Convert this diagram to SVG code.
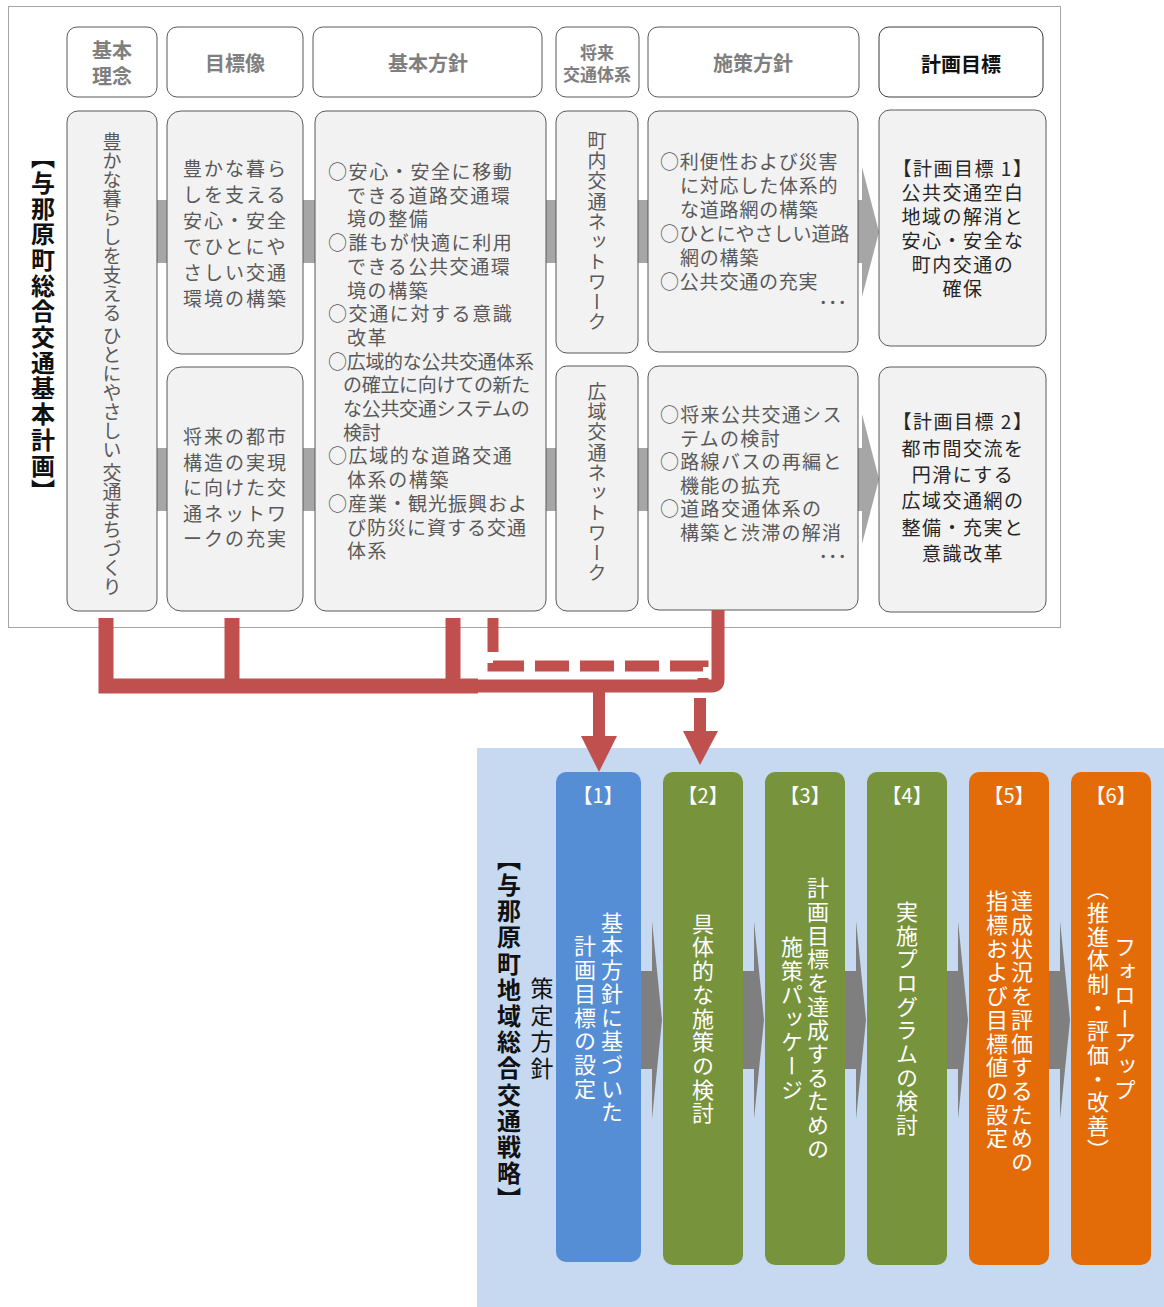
<svg xmlns="http://www.w3.org/2000/svg" width="1164" height="1307" viewBox="0 0 1164 1307">
<defs>
<style>
.frame{fill:#fff;stroke:#a6a6a6;stroke-width:1}
.hdr{fill:#fff;stroke:#595959;stroke-width:1}
.hdrk{fill:#fff;stroke:#3a3a3a;stroke-width:1}
.box{fill:#f2f2f2;stroke:#595959;stroke-width:1}
.f{font-family:"Noto Sans CJK JP","Noto Sans",sans-serif}
.ht{font-family:"Noto Sans CJK JP",sans-serif;font-weight:bold;fill:#7f7f7f;font-size:20px}
.htk{font-family:"Noto Sans CJK JP",sans-serif;font-weight:bold;fill:#111;font-size:20px}
.t{font-family:"Noto Sans CJK JP",sans-serif;fill:#595959;font-size:19px}
.tk{font-family:"Noto Sans CJK JP",sans-serif;fill:#262626;font-size:19px;letter-spacing:1.5px}
.v{writing-mode:vertical-rl}
.w{font-family:"Noto Sans CJK JP",sans-serif;fill:#fff;font-size:22px;letter-spacing:1.7px}
.lab{font-family:"Noto Sans CJK JP",sans-serif;fill:#fff;font-size:20px}
.gbar{fill:#a6a6a6}
.garr{fill:#7f7f7f}
.red{stroke:#c0504d;fill:none}
.redf{fill:#c0504d}
</style>
</defs>

<rect class="frame" x="8.5" y="6.5" width="1052" height="621"/>

<g id="title-plan">
<text class="f v" x="43" y="145" style="font-weight:bold;font-size:24px;letter-spacing:1.7px;fill:#111">【与那原町総合交通基本計画】</text>
</g>

<!-- headers -->
<g id="h-rinen"><rect class="hdr" x="67" y="27" width="90" height="70" rx="10"/>
<text class="ht" x="112" y="49" text-anchor="middle" dominant-baseline="central">基本</text>
<text class="ht" x="112" y="75" text-anchor="middle" dominant-baseline="central">理念</text></g>
<g id="h-mokuhyozo"><rect class="hdr" x="167" y="27" width="136" height="70" rx="10"/>
<text class="ht" x="235" y="62" text-anchor="middle" dominant-baseline="central">目標像</text></g>
<g id="h-kihonhoshin"><rect class="hdr" x="313" y="27" width="229" height="70" rx="10"/>
<text class="ht" x="428" y="62" text-anchor="middle" dominant-baseline="central">基本方針</text></g>
<g id="h-shorai"><rect class="hdr" x="556" y="27" width="83" height="70" rx="10"/>
<text class="ht" x="597" y="51" text-anchor="middle" dominant-baseline="central" style="font-size:17px">将来</text>
<text class="ht" x="597" y="73" text-anchor="middle" dominant-baseline="central" style="font-size:17px">交通体系</text></g>
<g id="h-shisaku"><rect class="hdr" x="648" y="27" width="211" height="70" rx="10"/>
<text class="ht" x="753" y="62" text-anchor="middle" dominant-baseline="central">施策方針</text></g>
<g id="h-keikaku"><rect class="hdrk" x="879" y="27" width="164" height="70" rx="10"/>
<text class="htk" x="961" y="63" text-anchor="middle" dominant-baseline="central">計画目標</text></g>

<!-- grey connecting bars -->
<g id="bars">
<rect class="gbar" x="157" y="200" width="10" height="63"/>
<rect class="gbar" x="303" y="200" width="12" height="63"/>
<rect class="gbar" x="546" y="200" width="10" height="63"/>
<rect class="gbar" x="638" y="200" width="10" height="63"/>
<rect class="gbar" x="157" y="448" width="10" height="63"/>
<rect class="gbar" x="303" y="448" width="12" height="63"/>
<rect class="gbar" x="546" y="448" width="10" height="63"/>
<rect class="gbar" x="638" y="448" width="10" height="63"/>
<polygon class="gbar" points="858,200 862,200 862,167 879,232 862,297 862,263 858,263"/>
<polygon class="gbar" points="858,448 862,448 862,414 879,479 862,544 862,511 858,511"/>
</g>

<!-- body boxes -->
<g id="n-rinen"><rect class="box" x="67" y="111" width="90" height="500" rx="11"/>
<text class="t v" x="112" y="132">豊かな暮らしを支える ひとにやさしい 交通まちづくり</text></g>

<g id="n-mokuhyo1"><rect class="box" x="167" y="111" width="136" height="243" rx="14"/>
<text class="t" dominant-baseline="central" style="letter-spacing:2px">
<tspan x="183" y="167">豊かな暮ら</tspan><tspan x="183" y="193">しを支える</tspan><tspan x="183" y="219">安心・安全</tspan><tspan x="183" y="245">でひとにや</tspan><tspan x="183" y="271">さしい交通</tspan><tspan x="183" y="297">環境の構築</tspan></text></g>

<g id="n-mokuhyo2"><rect class="box" x="167" y="367" width="136" height="244" rx="14"/>
<text class="t" dominant-baseline="central" style="letter-spacing:2px">
<tspan x="183" y="435">将来の都市</tspan><tspan x="183" y="460.5">構造の実現</tspan><tspan x="183" y="486">に向けた交</tspan><tspan x="183" y="511.5">通ネットワ</tspan><tspan x="183" y="537">ークの充実</tspan></text></g>

<g id="n-kihonhoshin"><rect class="box" x="315" y="111" width="231" height="500" rx="11"/>
<text class="t" dominant-baseline="central" style="letter-spacing:1.6px">
<tspan x="328" y="170">○安心・安全に移動</tspan>
<tspan x="347" y="193.7">できる道路交通環</tspan>
<tspan x="347" y="217.4">境の整備</tspan>
<tspan x="328" y="241.1">○誰もが快適に利用</tspan>
<tspan x="347" y="264.8">できる公共交通環</tspan>
<tspan x="347" y="288.5">境の構築</tspan>
<tspan x="328" y="312.2">○交通に対する意識</tspan>
<tspan x="347" y="335.9">改革</tspan>
<tspan x="328" y="359.6" style="letter-spacing:-0.3px">○広域的な公共交通体系</tspan>
<tspan x="343" y="383.3" style="letter-spacing:-0.3px">の確立に向けての新た</tspan>
<tspan x="343" y="407" style="letter-spacing:-0.3px">な公共交通システムの</tspan>
<tspan x="343" y="430.7" style="letter-spacing:-0.3px">検討</tspan>
<tspan x="328" y="454.4">○広域的な道路交通</tspan>
<tspan x="347" y="478.1">体系の構築</tspan>
<tspan x="328" y="501.8" style="letter-spacing:1px">○産業・観光振興およ</tspan>
<tspan x="347" y="525.5" style="letter-spacing:1px">び防災に資する交通</tspan>
<tspan x="347" y="549.2">体系</tspan></text></g>

<g id="n-chonai"><rect class="box" x="556" y="111" width="82" height="242" rx="11"/>
<text class="t v" x="597" y="232" text-anchor="middle" style="letter-spacing:1.1px">町内交通ネットワーク</text></g>
<g id="n-koiki"><rect class="box" x="556" y="366" width="82" height="245" rx="11"/>
<text class="t v" x="597" y="483" text-anchor="middle" style="letter-spacing:1.1px">広域交通ネットワーク</text></g>

<g id="n-shisaku1"><rect class="box" x="648" y="111" width="210" height="241" rx="11"/>
<text class="t" dominant-baseline="central" style="letter-spacing:0.8px">
<tspan x="660" y="160">○利便性および災害</tspan>
<tspan x="680" y="184">に対応した体系的</tspan>
<tspan x="680" y="208">な道路網の構築</tspan>
<tspan x="660" y="232" style="letter-spacing:0px">○ひとにやさしい道路</tspan>
<tspan x="680" y="256">網の構築</tspan>
<tspan x="660" y="280">○公共交通の充実</tspan></text>
<text class="t" x="847" y="301" text-anchor="end" dominant-baseline="central">･･･</text></g>

<g id="n-shisaku2"><rect class="box" x="648" y="366" width="210" height="244" rx="11"/>
<text class="t" dominant-baseline="central" style="letter-spacing:1.3px">
<tspan x="660" y="413">○将来公共交通シス</tspan>
<tspan x="680" y="436.5">テムの検討</tspan>
<tspan x="660" y="460">○路線バスの再編と</tspan>
<tspan x="680" y="483.5">機能の拡充</tspan>
<tspan x="660" y="507">○道路交通体系の</tspan>
<tspan x="680" y="530.5">構築と渋滞の解消</tspan></text>
<text class="t" x="847" y="555" text-anchor="end" dominant-baseline="central">･･･</text></g>

<g id="n-goal1"><rect class="box" x="879" y="110" width="167" height="236" rx="11"/>
<text class="tk" text-anchor="middle" dominant-baseline="central">
<tspan x="963" y="167">【計画目標 1】</tspan><tspan x="963" y="191">公共交通空白</tspan><tspan x="963" y="215">地域の解消と</tspan><tspan x="963" y="239">安心・安全な</tspan><tspan x="963" y="263">町内交通の</tspan><tspan x="963" y="287">確保</tspan></text></g>

<g id="n-goal2"><rect class="box" x="879" y="367" width="167" height="245" rx="11"/>
<text class="tk" text-anchor="middle" dominant-baseline="central">
<tspan x="963" y="420">【計画目標 2】</tspan><tspan x="963" y="447">都市間交流を</tspan><tspan x="963" y="473">円滑にする</tspan><tspan x="963" y="499">広域交通網の</tspan><tspan x="963" y="526">整備・充実と</tspan><tspan x="963" y="552">意識改革</tspan></text></g>

<!-- lower section -->
<rect x="477" y="748" width="687" height="559" fill="#c6d9f1"/>

<g id="title-strategy">
<text class="f v" x="509" y="1030" text-anchor="middle" style="font-weight:bold;font-size:24px;letter-spacing:2.2px;fill:#111">【与那原町地域総合交通戦略】</text>
<text class="f v" x="542" y="1030" text-anchor="middle" style="font-size:23px;letter-spacing:3.5px;fill:#111">策定方針</text>
</g>

<g id="step-arrows">
<polygon class="garr" points="641,971 652,971 652,921 662,1020 652,1119 652,1069 641,1069"/>
<polygon class="garr" points="743,971 754,971 754,921 764,1020 754,1119 754,1069 743,1069"/>
<polygon class="garr" points="845,971 856,971 856,921 866,1020 856,1119 856,1069 845,1069"/>
<polygon class="garr" points="947,971 958,971 958,921 968,1020 958,1119 958,1069 947,1069"/>
<polygon class="garr" points="1049,971 1060,971 1060,921 1070,1020 1060,1119 1060,1069 1049,1069"/>
</g>

<g id="s1"><rect x="556" y="772" width="85" height="490" rx="10" fill="#558ed5"/>
<text class="lab" x="598" y="794" text-anchor="middle" dominant-baseline="central">【1】</text>
<text class="w v" x="612" y="1018" text-anchor="middle">基本方針に基づいた</text>
<text class="w v" x="585" y="1018" text-anchor="middle">計画目標の設定</text></g>

<g id="s2"><rect x="663" y="772" width="80" height="493" rx="10" fill="#77933c"/>
<text class="lab" x="703" y="794" text-anchor="middle" dominant-baseline="central">【2】</text>
<text class="w v" x="703" y="1019" text-anchor="middle">具体的な施策の検討</text></g>

<g id="s3"><rect x="765" y="772" width="80" height="493" rx="10" fill="#77933c"/>
<text class="lab" x="805" y="794" text-anchor="middle" dominant-baseline="central">【3】</text>
<text class="w v" x="818" y="1019" text-anchor="middle">計画目標を達成するための</text>
<text class="w v" x="792" y="1019" text-anchor="middle">施策パッケージ</text></g>

<g id="s4"><rect x="867" y="772" width="80" height="493" rx="10" fill="#77933c"/>
<text class="lab" x="907" y="794" text-anchor="middle" dominant-baseline="central">【4】</text>
<text class="w v" x="907" y="1019" text-anchor="middle">実施プログラムの検討</text></g>

<g id="s5"><rect x="969" y="772" width="80" height="493" rx="10" fill="#e36c09"/>
<text class="lab" x="1009" y="794" text-anchor="middle" dominant-baseline="central">【5】</text>
<text class="w v" x="1022" y="890">達成状況を評価するための</text>
<text class="w v" x="997" y="890">指標および目標値の設定</text></g>

<g id="s6"><rect x="1071" y="772" width="80" height="493" rx="10" fill="#e36c09"/>
<text class="lab" x="1111" y="794" text-anchor="middle" dominant-baseline="central">【6】</text>
<text class="w v" x="1125" y="1019" text-anchor="middle">フォローアップ</text>
<text class="w v" x="1098" y="1020" text-anchor="middle">（推進体制・評価・改善）</text></g>

<!-- connectors -->
<g id="connectors">
<path class="red" d="M106,618 V686 H478" stroke-width="15"/>
<path class="red" d="M232,618 V686" stroke-width="15"/>
<path class="red" d="M453,618 V686" stroke-width="15"/>
<path class="red" d="M718,610 V680 Q718,686 712,686 H470" stroke-width="13"/>
<path class="red" d="M493,618 V666 H703 V680" stroke-width="11" stroke-dasharray="34 11"/>
<path class="red" d="M599,686 V738" stroke-width="12"/>
<polygon class="redf" points="581,736 617,736 599,772"/>
<path class="red" d="M700,698 V733" stroke-width="12"/>
<polygon class="redf" points="683,731 718,731 700,765"/>
</g>
</svg>
